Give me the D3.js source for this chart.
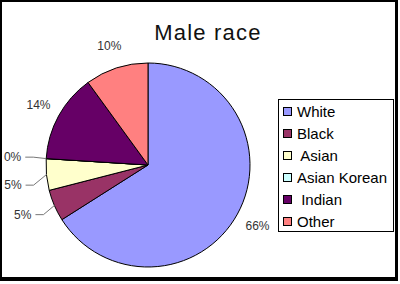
<!DOCTYPE html>
<html>
<head>
<meta charset="utf-8">
<script src="https://cdn.jsdelivr.net/npm/d3@7"></script>
<style>
  body { margin: 0; background: #fff; }
  svg { display: block; }
</style>
</head>
<body>
<svg id="chart" width="400" height="284"></svg>
<script>
(function() {
    var categories = ["White", "Black", "Asian", "Asian Korean", "Indian", "Other"];
    var legendLabels = ["White", "Black", " Asian", "Asian Korean", " Indian", "Other"];
    var values = [66, 5, 5, 0, 14, 10];
    var colors = ["#9999ff", "#993366", "#ffffcc", "#ccffff", "#660066", "#ff8080"];

    var data = categories.map(function(c, i) {
        return {name: c, legend: legendLabels[i], value: values[i]};
    });

    var svg = d3.select("#chart"),
        cx = 148, cy = 165, radius = 102;

    // frame with a heavier edge on the right and bottom
    svg.append("rect").attr("x", 0).attr("y", 0).attr("width", 398).attr("height", 281).attr("fill", "#000");
    svg.append("rect").attr("x", 2).attr("y", 2).attr("width", 393).attr("height", 275).attr("fill", "#fff");

    svg.append("text")
        .attr("x", 208)
        .attr("y", 40)
        .attr("text-anchor", "middle")
        .style("font-family", "Liberation Sans, Arial, sans-serif")
        .style("font-size", "22px")
        .style("letter-spacing", "1.2px")
        .attr("fill", "#111")
        .text("Male race");

    var color = d3.scaleOrdinal().domain(categories).range(colors);

    var pie = d3.pie().sort(null).value(function(d) { return d.value; });
    var arcs = pie(data);

    var arc = d3.arc().innerRadius(0).outerRadius(radius);

    var g = svg.append("g").attr("transform", "translate(" + cx + "," + cy + ")");

    g.selectAll("path.slice")
        .data(arcs)
        .enter().append("path")
        .attr("class", "slice")
        .attr("d", arc)
        .attr("fill", function(d) { return color(d.data.name); })
        .attr("stroke", "#000")
        .attr("stroke-width", 1)
        .attr("stroke-linejoin", "round");

    // label positions
    var labelR = 125;
    var labels = arcs.map(function(d) {
        var a = (d.startAngle + d.endAngle) / 2;
        return {
            d: d,
            a: a,
            x: Math.sin(a) * labelR,
            y: -Math.cos(a) * labelR,
            small: (d.endAngle - d.startAngle) < 0.4
        };
    });

    // push small labels apart vertically
    var small = labels.filter(function(l) { return l.small; }).sort(function(a, b) { return a.y - b.y; });
    for (var i = 1; i < small.length; i++) {
        if (small[i].y - small[i - 1].y < 28) small[i].y = small[i - 1].y + 28;
    }

    var lbl = g.selectAll("g.lbl")
        .data(labels)
        .enter().append("g")
        .attr("class", "lbl");

    lbl.filter(function(l) { return l.small; })
        .append("path")
        .attr("fill", "none")
        .attr("stroke", "#777")
        .attr("stroke-width", 1)
        .attr("d", function(l) {
            var ex = Math.sin(l.a) * radius, ey = -Math.cos(l.a) * radius;
            var tx = Math.sin(l.a) * 127;
            return "M" + ex + "," + ey + "L" + (tx + 12) + "," + l.y + "L" + (tx + 4) + "," + l.y;
        });

    lbl.append("text")
        .attr("x", function(l) { return l.small ? Math.sin(l.a) * 127 : l.x; })
        .attr("y", function(l) { return l.y; })
        .attr("dy", "0.36em")
        .attr("text-anchor", function(l) { return l.small ? "end" : "middle"; })
        .style("font-family", "Liberation Sans, Arial, sans-serif")
        .style("font-size", "12px")
        .attr("fill", "#333")
        .text(function(l) { return l.d.data.value + "%"; });

    // legend
    var legend = svg.append("g").attr("transform", "translate(278,99)");
    legend.append("rect")
        .attr("x", 0.5).attr("y", 0.5)
        .attr("width", 115).attr("height", 132)
        .attr("fill", "#fff")
        .attr("stroke", "#000");

    var item = legend.selectAll(".item")
        .data(data)
        .enter().append("g")
        .attr("class", "item")
        .attr("transform", function(d, i) { return "translate(0," + (13 + i * 22) + ")"; });

    item.append("rect")
        .attr("x", 5.5).attr("y", -4.5)
        .attr("width", 8).attr("height", 8)
        .attr("fill", function(d) { return color(d.name); })
        .attr("stroke", "#000")
        .attr("stroke-width", 1);

    item.append("text")
        .attr("x", 19)
        .attr("y", 0)
        .attr("dy", "0.36em")
        .style("font-family", "Liberation Sans, Arial, sans-serif")
        .style("font-size", "15px")
        .style("white-space", "pre")
        .attr("fill", "#000")
        .text(function(d) { return d.legend; });
})();
</script>
</body>
</html>
